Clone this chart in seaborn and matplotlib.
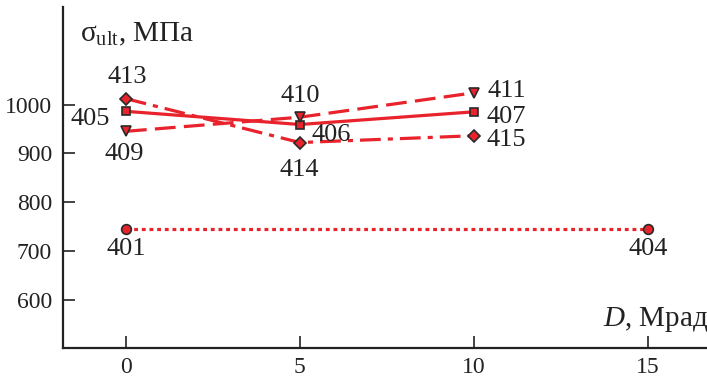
import matplotlib
matplotlib.use("Agg")
import matplotlib.pyplot as plt
import seaborn as sns
import pandas as pd

# Dose (Mrad) and ultimate strength (MPa) for each sample group
dose_main = [0, 5, 10]
strength_square = [986, 959, 985]
labels_square = ["405", "406", "407"]
strength_triangle = [945, 974, 1024]
labels_triangle = ["409", "410", "411"]
strength_diamond = [1012, 922, 936]
labels_diamond = ["413", "414", "415"]

dose_circle = [0, 15]
strength_circle = [745, 745]
labels_circle = ["401", "404"]

x_ticks = [0, 5, 10, 15]
y_ticks = [600, 700, 800, 900, 1000]

sns.set_theme(style="white")
plt.rcParams["font.family"] = ["Liberation Serif", "DejaVu Serif"]
plt.rcParams["mathtext.fontset"] = "custom"
plt.rcParams["mathtext.rm"] = "Liberation Serif"
plt.rcParams["mathtext.it"] = "Liberation Serif:italic"

RED = "#e8232b"
EDGE = "#2a2a2a"
INK = "#222222"

fig = plt.figure(figsize=(7.07, 3.80), dpi=100)
ax = fig.add_axes([0.0895, 0.0834, 0.9105, 0.8982])

common = dict(color=RED, lw=2.3, markerfacecolor=RED, markeredgecolor=EDGE,
              markeredgewidth=1.2, ax=ax, legend=False)

sns.lineplot(x=dose_circle, y=strength_circle, marker="o", markersize=7,
             linestyle=(0, (1.2, 1.2)), **common)
sns.lineplot(x=dose_main, y=strength_square, marker="s", markersize=6.4,
             linestyle="-", **common)
sns.lineplot(x=dose_main, y=strength_diamond, marker="D", markersize=6.4,
             linestyle=(0, (6.5, 2.2, 1.6, 2.2)), **common)
sns.lineplot(x=dose_main, y=strength_triangle, marker="v", markersize=7.8,
             linestyle=(0, (6.5, 2.6)), **common)

ax.set_xlim(-1.8, 16.7)
ax.set_ylim(500, 1200)
ax.set_xticks(x_ticks)
ax.set_yticks(y_ticks)
ax.set_xlabel("")
ax.set_ylabel("")

for side in ("top", "right"):
    ax.spines[side].set_visible(False)
for side in ("left", "bottom"):
    ax.spines[side].set_color(INK)
    ax.spines[side].set_linewidth(1.6)

ax.tick_params(axis="both", direction="in", length=8.6, width=1.2,
               color=INK, labelsize=17, labelcolor=INK)
ax.tick_params(axis="x", pad=6)
ax.tick_params(axis="y", pad=8)
ax.tick_params(axis="both", left=True, bottom=True)

txt = dict(fontsize=19, color=INK, textcoords="offset pixels")

def label_points(xs, ys, names, offsets):
    for x, y, name, (dx, dy, ha) in zip(xs, ys, names, offsets):
        ax.annotate(name, (x, y), xytext=(dx, dy), ha=ha, va="center", **txt)

label_points(dose_main, strength_square, labels_square,
             [(-16, -8, "right"), (12, -10, "left"), (13, -5, "left")])
label_points(dose_main, strength_triangle, labels_triangle,
             [(-2, -23, "center"), (0, 21, "center"), (14, 2, "left")])
label_points(dose_main, strength_diamond, labels_diamond,
             [(1, 22, "center"), (-1, -27, "center"), (13, -4, "left")])
label_points(dose_circle, strength_circle, labels_circle,
             [(0, -20, "center"), (0, -20, "center")])

ax.text(0.026, 0.898, r"σ$_{\rm ult}$, МПа", transform=ax.transAxes,
        ha="left", va="baseline", fontsize=21, color=INK)
ax.text(0.838, 0.0645, r"$\mathit{D}$, Мрад", transform=ax.transAxes,
        ha="left", va="baseline", fontsize=21, color=INK)

fig.savefig("out.png", dpi=100)
